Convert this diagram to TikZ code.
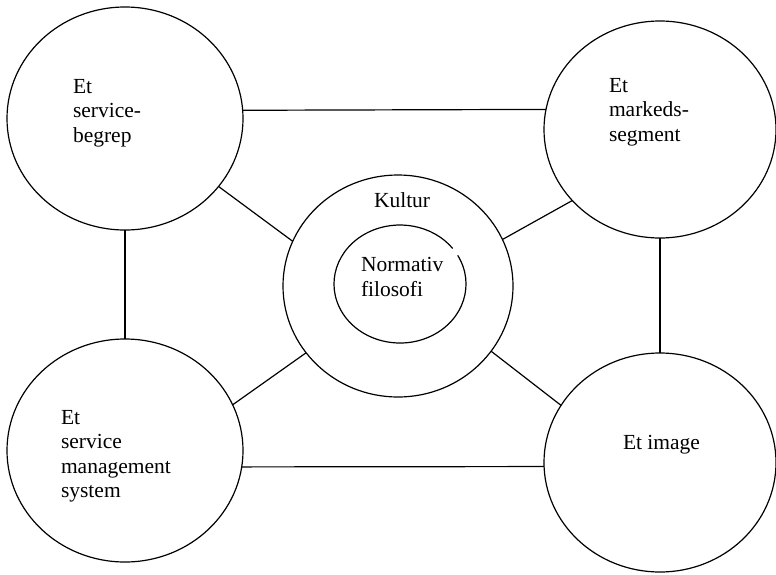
\documentclass[tikz,border=0pt]{standalone}
\usepackage{fontspec}
\setmainfont{Liberation Serif}
\usetikzlibrary{shapes.geometric}
\begin{document}
\begin{tikzpicture}[x=1pt,y=-1pt,
  ring/.style={ellipse,draw,line width=1.2pt,inner sep=0pt,outer sep=0pt},
  txt/.style={anchor=base west,inner sep=0pt,outer sep=0pt,align=left,
    font=\fontsize{21.5}{24.5}\selectfont},
  connector/.style={line width=1.2pt}]
\useasboundingbox (0,0) rectangle (776,574);

% four outer elements
\node[ring,minimum width=236pt,minimum height=223pt] (tl) at (125,118.5) {};
\node[ring,minimum width=232pt,minimum height=217pt] (tr) at (660,129.5) {};
\node[ring,minimum width=236pt,minimum height=223pt] (bl) at (125,450.5) {};
\node[ring,minimum width=232pt,minimum height=219pt] (br) at (660,462.5) {};

% culture ring with the normative philosophy at its core
\node[ring,minimum width=230pt,minimum height=222pt] (kultur) at (398,286) {};
\node[ellipse,inner sep=0pt,outer sep=0pt,minimum width=132pt,minimum height=118pt] (norm) at (400,284) {};
\draw[connector] ([shift={(-29:66 and 59)}]norm.center)
  arc[start angle=-29,end angle=323,x radius=66,y radius=59];

% labels (anchored on the baseline of their last line)
\node[txt] (t1) at (73,142) {Et\\service-\\begrep};
\node[txt] (t2) at (609,141) {Et\\markeds-\\segment};
\node[txt] (t3) at (61,497.5) {Et\\service\\management\\system};
\node[txt] (t4) at (623,449) {Et image};
\node[txt] (t5) at (374,207) {Kultur};
\node[txt] (t6) at (361,296) {Normativ\\filosofi};

% frame of connections
\draw[connector] (tl.4.1) -- (tr.170.3);
\draw[connector] (bl.-8) -- (br.182.2);
\draw[connector] (tl.south) -- (bl.north);
\draw[connector] (tr.south) -- (br.north);

% spokes to the centre
\draw[connector] (tl.-36.7) -- (kultur.157);
\draw[connector] (tr.-141.8) -- (kultur.24);
\draw[connector] (bl.23.4) -- (kultur.216.4);
\draw[connector] (br.150.8) -- (kultur.-35.5);
\end{tikzpicture}
\end{document}
